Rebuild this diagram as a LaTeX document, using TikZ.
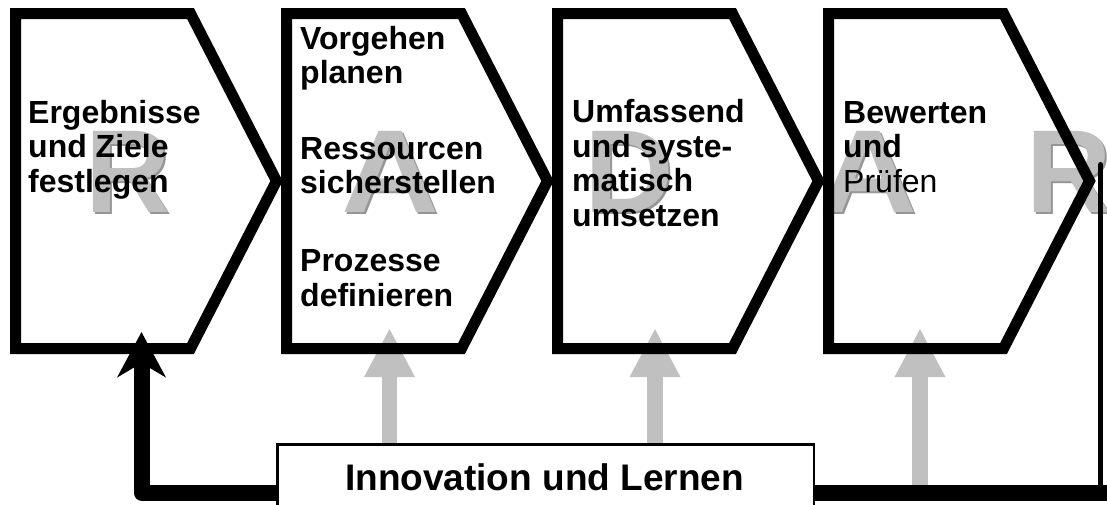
\documentclass[tikz,border=0pt]{standalone}
\usepackage{fontspec}
\setmainfont{Liberation Sans}
\usetikzlibrary{arrows.meta}
\definecolor{lgray}{RGB}{192,192,192}
\definecolor{sgray}{RGB}{150,150,150}
\begin{document}
\begin{tikzpicture}[x=1pt,y=-1pt,
  chevron/.style={draw=black, line width=11pt, miter limit=10},
  lbl/.style={anchor=base west, inner sep=0, align=left, font=\fontsize{32}{34.5}\selectfont\bfseries},
  bigshadow/.style={anchor=base, inner sep=0, font=\fontsize{118}{118}\selectfont\bfseries, text=sgray},
  bigletter/.style={anchor=base, inner sep=0, font=\fontsize{118}{118}\selectfont\bfseries, text=lgray},
  garrow/.style={draw=lgray, line width=15.5pt, -{Triangle[length=49pt,width=47pt]}},
  fb/.style={draw=black, line width=16pt, line join=round},
  thinfb/.style={draw=black, line width=5pt, line cap=round},
  innobox/.style={draw=black, fill=white, line width=2.5pt, anchor=north west, inner sep=0,
    minimum width=536.5pt, minimum height=96.5pt},
  innotext/.style={anchor=base, inner sep=0, font=\fontsize{37}{37}\selectfont\bfseries}
]
\useasboundingbox (0,0) rectangle (1107,504);

% big background letters with shadow
\foreach \n/\ch/\x/\sx in {l1/R/128/1, l2/A/390/1.15, l3/D/629/1.05, l4/A/868/1.15, l5/R/1069/1}{
  \node[bigshadow, xscale=\sx] (\n s) at (\x+2.5,214.5) {\ch};
  \node[bigletter, xscale=\sx] (\n) at (\x,212) {\ch};
}

% gray arrows
\coordinate (g1) at (389.5,328);
\coordinate (g2) at (655,328);
\coordinate (g3) at (920,328);
\coordinate (g3s) at (920,486);
\coordinate (g1s) at (389.5,446);
\coordinate (g2s) at (655,446);
\draw[garrow] (g1s) -- (g1);
\draw[garrow] (g2s) -- (g2);
\draw[garrow] (g3s) -- (g3);

% chevrons
\foreach \L in {15.5, 286.5, 557.5, 828.5}{
  \draw[chevron] (\L,13.5) -- (\L+175,13.5) -- (\L+261,181) -- (\L+175,348.5) -- (\L,348.5) -- cycle;
}

% texts (base anchor = baseline of last line)
\node[lbl] (t1) at (28,192) {Ergebnisse\\und Ziele\\festlegen};
\node[lbl] (t2a) at (300,83.5) {Vorgehen\\planen};
\node[lbl] (t2b) at (300,193.5) {Ressourcen\\sicherstellen};
\node[lbl] (t2c) at (300,306) {Prozesse\\definieren};
\node[lbl] (t3) at (572,226) {Umfassend\\und syste-\\matisch\\umsetzen};
\node[lbl] (t4) at (843,192) {Bewerten\\und\\{\mdseries Pr\"ufen}};

% innovation box
\node[innobox] (box) at (276,443) {};
\node[innotext] (innov) at (544.5,490) {Innovation und Lernen};

% feedback lines
\coordinate (fbtip) at (141.5,332);
\coordinate (fbend) at (1115,492.5);
\coordinate (rtop) at (1100.5,164.5);
\draw[fb, -{Stealth[length=45pt,width=48pt,inset=14pt]}] (box.west) -| (fbtip);
\draw[fb] (box.east) -- (fbend);
\draw[thinfb] (rtop) -- (rtop |- fbend);
\end{tikzpicture}
\end{document}
